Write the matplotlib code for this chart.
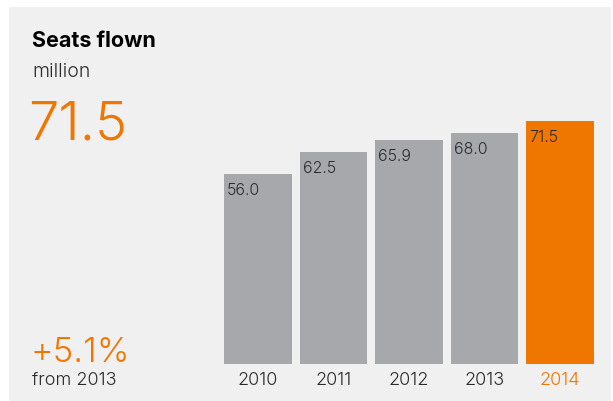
import matplotlib.pyplot as plt
from matplotlib.patches import Rectangle

# seats flown, million
years = ["2010", "2011", "2012", "2013", "2014"]
seats = [56.0, 62.5, 65.9, 68.0, 71.5]
headline = "71.5"
growth = "+5.1%"
growth_note = "from 2013"

GREY = "#a7a8ab"
ORANGE = "#ef7700"
DARK = "#2b2b2b"
PANEL = "#f0f0f0"
FONT = ["Inter", "DejaVu Sans"]
LIGHT = 300

W, H = 613, 402
fig = plt.figure(figsize=(W / 100, H / 100), dpi=100)
fig.patch.set_facecolor("white")

# light panel behind everything
fig.add_artist(Rectangle((9 / W, 0), 602 / W, (H - 8) / H, transform=fig.transFigure,
                         facecolor=PANEL, edgecolor="none", zorder=0))

# headline block on the left
fig.text(32 / W, 1 - 47 / H, "Seats flown", fontsize=15.5, fontweight=700,
         color="black", family=FONT, va="baseline")
fig.text(32 / W, 1 - 77 / H, "million", fontsize=14, fontweight=LIGHT,
         color=DARK, family=FONT, va="baseline")
fig.text(28 / W, 1 - 140 / H, headline, fontsize=39, fontweight=LIGHT,
         color=ORANGE, family=FONT, va="baseline")
fig.text(31 / W, 1 - 362 / H, growth, fontsize=25, fontweight=LIGHT,
         color=ORANGE, family=FONT, va="baseline")
fig.text(32 / W, 1 - 385 / H, growth_note, fontsize=13, fontweight=LIGHT,
         color=DARK, family=FONT, va="baseline")

# bar chart: baseline at y=365px, 3.397 px per million
base_px = 365
px_per_unit = 3.397
top_px = 100
ax = fig.add_axes([220.25 / W, (H - base_px) / H, 377.5 / W, (base_px - top_px) / H])
ax.set_facecolor("none")
x = range(len(years))
colors = [GREY] * (len(years) - 1) + [ORANGE]
ax.bar(x, seats, width=0.9, color=colors)
ax.set_xlim(-0.5, len(years) - 0.5)
ax.set_ylim(0, (base_px - top_px) / px_per_unit)
for s in ax.spines.values():
    s.set_visible(False)
ax.set_yticks([])
ax.set_xticks(list(x))
ax.set_xticklabels(years, fontsize=13, family=FONT, fontweight=LIGHT)
ax.tick_params(axis="x", length=0, pad=5, colors=DARK)
ax.get_xticklabels()[-1].set_color(ORANGE)

for i, v in enumerate(seats):
    ax.annotate(f"{v:.1f}", xy=(i - 0.45, v), xytext=(3, -8), textcoords="offset pixels",
                ha="left", va="top", fontsize=11.5, family=FONT, fontweight=LIGHT,
                color=DARK)

fig.savefig("out.png", dpi=100, facecolor="white")
